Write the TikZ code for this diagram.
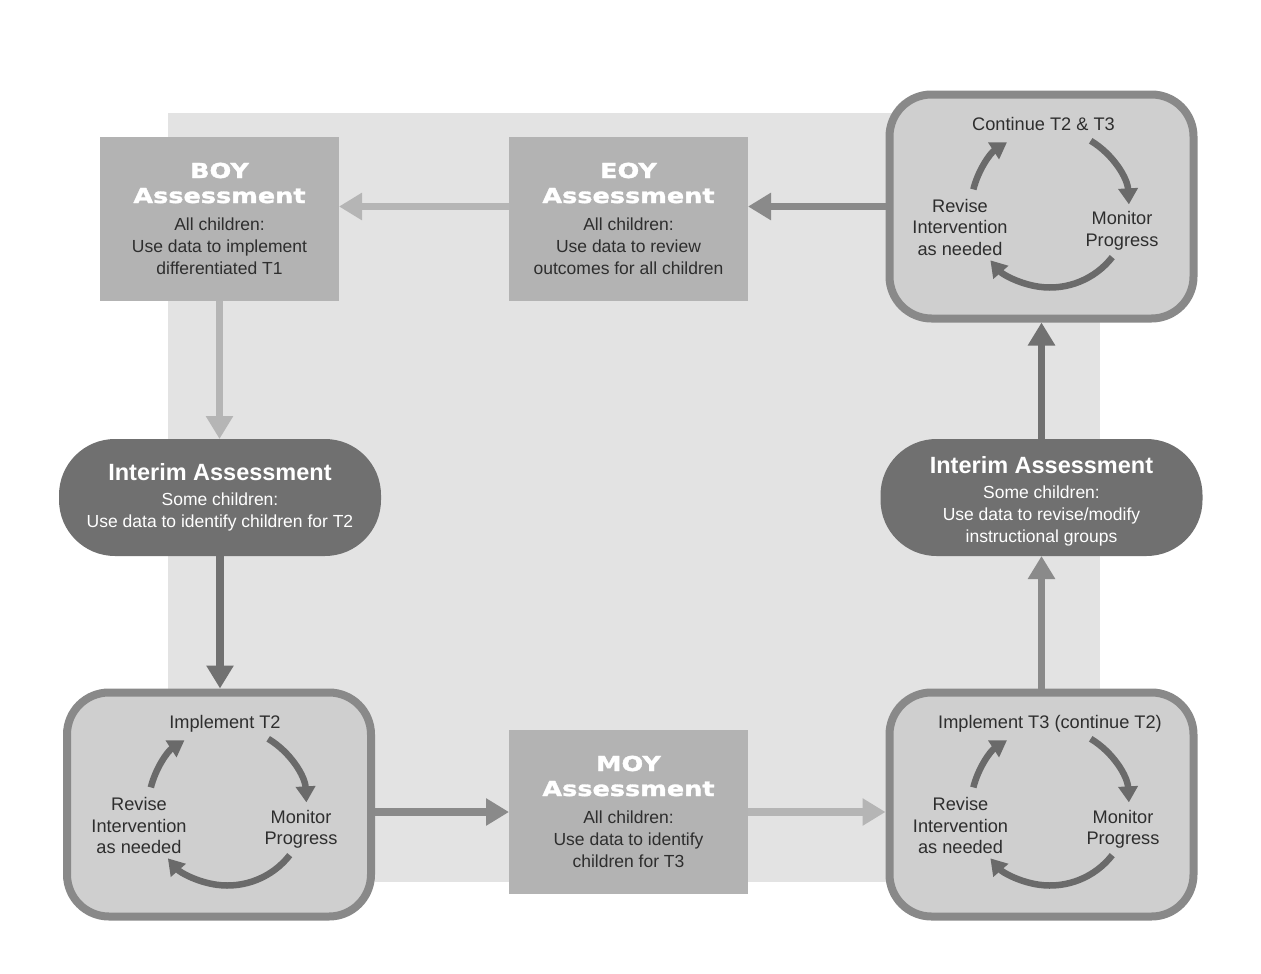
\documentclass[tikz,border=0pt]{standalone}
\usepackage{fontspec}
\setmainfont{Liberation Sans}
\newfontfamily\titlefont[FakeStretch=1.24,FakeBold=1.5]{DejaVu Sans Bold}
\usetikzlibrary{arrows.meta,calc}
\definecolor{bgc}{HTML}{E3E3E3}
\definecolor{sqc}{HTML}{B3B3B3}
\definecolor{pillc}{HTML}{707070}
\definecolor{cycfill}{HTML}{CFCFCF}
\definecolor{cycdraw}{HTML}{898989}
\definecolor{txtc}{HTML}{2E2E2E}
\definecolor{arrL}{HTML}{B5B5B5}
\definecolor{arrM}{HTML}{8A8A8A}
\definecolor{arrD}{HTML}{717171}
\definecolor{cycarrc}{HTML}{6A6A6A}
\begin{document}
\begin{tikzpicture}[x=1pt,y=-1pt,
  sqbox/.style={rectangle, fill=sqc, minimum width=239pt, minimum height=164pt, inner sep=0pt, outer sep=0pt},
  pill/.style={rectangle, rounded corners=56pt, fill=pillc, minimum width=322pt, minimum height=117pt, inner sep=0pt, outer sep=0pt},
  cycbox/.style={rectangle, rounded corners=42pt, fill=cycfill, draw=cycdraw, line width=8pt, minimum width=304pt, minimum height=224pt, inner sep=0pt},
  ttl/.style={font=\titlefont\fontsize{20.6}{25}\selectfont, text=white, align=center, inner sep=0pt},
  body/.style={font=\fontsize{17.5}{22}\selectfont, text=txtc, align=center, inner sep=0pt},
  ptitle/.style={font=\bfseries\fontsize{23.5}{28}\selectfont, text=white, inner sep=0pt, anchor=base},
  pbody/.style={font=\fontsize{17.5}{22}\selectfont, text=white, align=center, inner sep=0pt},
  ctop/.style={font=\fontsize{18.2}{21.5}\selectfont, text=txtc, inner sep=0pt, anchor=base},
  ctext/.style={font=\fontsize{18.2}{21.5}\selectfont, text=txtc, align=center, inner sep=0pt},
  arr/.style={line width=7.5pt, -{Triangle[width=26pt,length=23pt]}},
  cyca/.style={line width=6.5pt, draw=cycarrc, -{Triangle[width=19pt,length=16pt]}}
]
\fill[white] (0,0) rectangle (1261,974);
\useasboundingbox (0,0) rectangle (1261,974);
\fill[bgc] (168,113) rectangle (1100,882);

% boxes
\node[sqbox] (boy) at (219.5,219) {};
\node[sqbox] (eoy) at (628.5,219) {};
\node[sqbox] (moy) at (628.5,812) {};
\node[pill] (intL) at (220,497.5) {};
\node[pill] (intR) at (1041.5,497.5) {};
\node[cycbox] (bl) at (219,804.5) {};
\node[cycbox] (br) at (1041.5,804.5) {};
\node[cycbox] (tr) at (1041.5,206.5) {};

% square box texts
\node[ttl] (boyT) at (219.5,185.5) {\strut BOY\\\strut Assessment};
\node[body] (boyB) at (219.5,247.9) {\strut All children:\\\strut Use data to implement\\\strut differentiated T1};
\node[ttl] (eoyT) at (628.5,185.5) {\strut EOY\\\strut Assessment};
\node[body] (eoyB) at (628.5,247.9) {\strut All children:\\\strut Use data to review\\\strut outcomes for all children};
\node[ttl] (moyT) at (628.5,778.5) {\strut MOY\\\strut Assessment};
\node[body] (moyB) at (628.5,840.9) {\strut All children:\\\strut Use data to identify\\\strut children for T3};

% interim texts
\node[ptitle] (intLT) at (220,480) {Interim Assessment};
\node[pbody] (intLB) at (220,511.9) {\strut Some children:\\\strut Use data to identify children for T2};
\node[ptitle] (intRT) at (1041.5,473.5) {Interim Assessment};
\node[pbody] (intRB) at (1041.5,515.9) {\strut Some children:\\\strut Use data to revise/modify\\\strut instructional groups};

% cycle texts
\node[ctop] (blTop) at (225,728.5) {Implement T2};
\node[ctext] (blRev) at (139,827.8) {\strut Revise\\\strut Intervention\\\strut as needed};
\node[ctext] (blMon) at (301,829.6) {\strut Monitor\\\strut Progress};
\node[ctop] (trTop) at (1043.5,130.5) {Continue T2 \& T3};
\node[ctext] (trRev) at (960,229.2) {\strut Revise\\\strut Intervention\\\strut as needed};
\node[ctext] (trMon) at (1122,231.2) {\strut Monitor\\\strut Progress};
\node[ctop] (brTop) at (1050,728.5) {Implement T3 (continue T2)};
\node[ctext] (brRev) at (960.5,827.8) {\strut Revise\\\strut Intervention\\\strut as needed};
\node[ctext] (brMon) at (1123,829.6) {\strut Monitor\\\strut Progress};

% main arrows
\draw[arr, draw=arrL] (boy.south) -- (boy.south |- intL.north);
\draw[arr, draw=arrD] (intL.south) -- (intL.south |- bl.north);
\draw[arr, draw=arrM] (bl.east |- moy.west) -- (moy.west);
\draw[arr, draw=arrL] (moy.east) -- (moy.east -| br.west);
\draw[arr, draw=arrM] (br.north) -- (intR.south);
\draw[arr, draw=arrD] (intR.north) -- (tr.south);
\draw[arr, draw=arrM] (tr.west) -- (tr.west -| eoy.east);
\draw[arr, draw=arrL] (tr.west -| eoy.west) -- (tr.west -| boy.east);

% cycle arrows
\coordinate (blc) at ($(bl.center)+(8.5,2)$);
\coordinate (brc) at ($(br.center)+(8.5,2)$);
\coordinate (trc) at ($(tr.center)+(8.5,2)$);
\foreach \c in {blc,brc,trc}{
  \draw[cyca] ($(\c)+(-166:79)$) arc[start angle=-166, end angle=-123, radius=79];
  \draw[cyca] ($(\c)+(-59:79)$) arc[start angle=-59, end angle=-3, radius=79];
  \draw[cyca] ($(\c)+(38:79)$) arc[start angle=38, end angle=139, radius=79];
}
\end{tikzpicture}
\end{document}
